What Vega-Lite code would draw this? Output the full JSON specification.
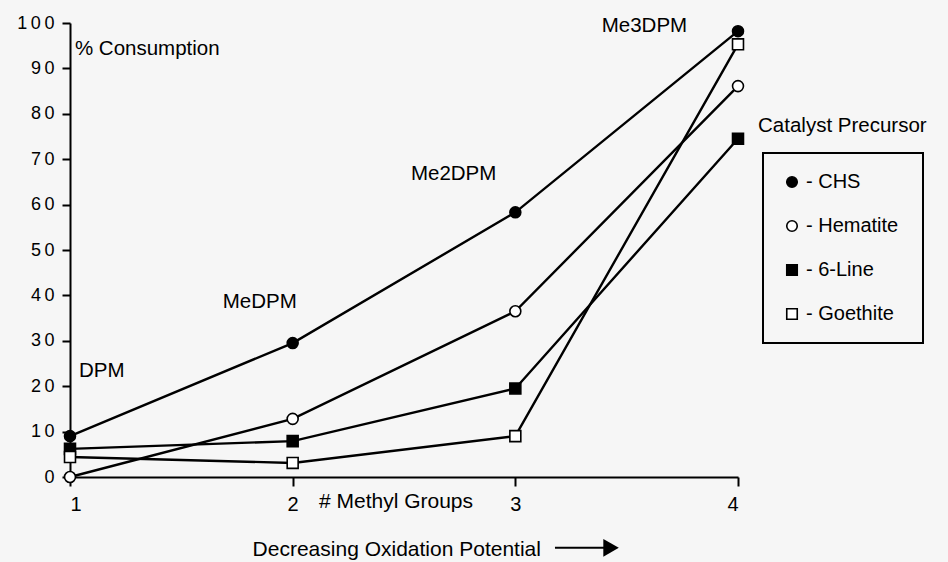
{
  "$schema": "https://vega.github.io/schema/vega-lite/v6.json",
  "width": 668,
  "height": 454,
  "autosize": {"type": "none"},
  "padding": {"left": 70, "top": 23, "right": 210, "bottom": 85},
  "background": "#f6f6f6",
  "config": {
    "view": {"stroke": null},
    "font": "Liberation Sans",
    "legend": {
      "orient": "none",
      "legendX": 693,
      "legendY": 130,
      "strokeColor": "black",
      "strokeWidth": 2,
      "padding": 19,
      "rowPadding": 24,
      "labelFontSize": 20,
      "labelColor": "black",
      "labelOffset": 4,
      "symbolSize": 110,
      "symbolStrokeWidth": 1.6
    }
  },
  "datasets": {
    "series": [
      {"catalyst": "CHS", "groups": 1, "consumption": 9},
      {"catalyst": "CHS", "groups": 2, "consumption": 29.5},
      {"catalyst": "CHS", "groups": 3, "consumption": 58.3},
      {"catalyst": "CHS", "groups": 4, "consumption": 98.2},
      {"catalyst": "Hematite", "groups": 1, "consumption": 0},
      {"catalyst": "Hematite", "groups": 2, "consumption": 12.8},
      {"catalyst": "Hematite", "groups": 3, "consumption": 36.5},
      {"catalyst": "Hematite", "groups": 4, "consumption": 86.1},
      {"catalyst": "6-Line", "groups": 1, "consumption": 6.2},
      {"catalyst": "6-Line", "groups": 2, "consumption": 7.9},
      {"catalyst": "6-Line", "groups": 3, "consumption": 19.5},
      {"catalyst": "6-Line", "groups": 4, "consumption": 74.5},
      {"catalyst": "Goethite", "groups": 1, "consumption": 4.4},
      {"catalyst": "Goethite", "groups": 2, "consumption": 3.1},
      {"catalyst": "Goethite", "groups": 3, "consumption": 9},
      {"catalyst": "Goethite", "groups": 4, "consumption": 95.3}
    ],
    "notes": [
      {"x": 1.022, "y": 94.3, "label": "% Consumption"},
      {"x": 1.04, "y": 23.3, "label": "DPM"},
      {"x": 1.686, "y": 38.5, "label": "MeDPM"},
      {"x": 2.531, "y": 66.7, "label": "Me2DPM"},
      {"x": 3.388, "y": 99.3, "label": "Me3DPM"},
      {"x": 4.09, "y": 77.3, "label": "Catalyst Precursor"}
    ],
    "axisnotes": [
      {"x": 2.118, "y": -5.6, "label": "# Methyl Groups"},
      {"x": 1.82, "y": -16.1, "label": "Decreasing Oxidation Potential"}
    ],
    "arrow": [
      {"x": 3.178, "x2": 3.43, "y": -15.6}
    ]
  },
  "layer": [
    {
      "data": {"name": "series"},
      "mark": {"type": "line", "color": "black", "strokeWidth": 2.4},
      "encoding": {
        "x": {
          "field": "groups", "type": "quantitative",
          "scale": {"domain": [1, 4], "nice": false, "zero": false},
          "axis": {
            "values": [1, 2, 3, 4], "format": "d", "title": null, "grid": false,
            "domainColor": "black", "domainWidth": 2, "tickColor": "black", "tickWidth": 2,
            "tickSize": 9, "labelFontSize": 20, "labelColor": "black", "labelPadding": 8
          }
        },
        "y": {
          "field": "consumption", "type": "quantitative",
          "scale": {"domain": [0, 100], "nice": false},
          "axis": {
            "values": [0, 10, 20, 30, 40, 50, 60, 70, 80, 90, 100], "title": null, "grid": false,
            "labelExpr": "replace(datum.label, regexp('(\\\\d)(?=\\\\d)', 'g'), '$1\u2009')",
            "domainColor": "black", "domainWidth": 2, "tickColor": "black", "tickWidth": 2,
            "tickSize": 8, "labelFontSize": 18, "labelColor": "black", "labelPadding": 8
          }
        },
        "detail": {"field": "catalyst"}
      }
    },
    {
      "data": {"name": "series"},
      "mark": {"type": "point", "filled": true, "strokeWidth": 1.6, "opacity": 1, "size": 120},
      "encoding": {
        "x": {"field": "groups", "type": "quantitative"},
        "y": {"field": "consumption", "type": "quantitative"},
        "stroke": {
          "field": "catalyst", "type": "nominal",
          "scale": {"domain": ["CHS", "Hematite", "6-Line", "Goethite"], "range": ["black", "black", "black", "black"]},
          "legend": {"title": null, "labelExpr": "'-  ' + datum.label"}
        },
        "shape": {
          "field": "catalyst", "type": "nominal",
          "scale": {"domain": ["CHS", "Hematite", "6-Line", "Goethite"], "range": ["circle", "circle", "square", "square"]},
          "legend": {"title": null, "labelExpr": "'-  ' + datum.label"}
        },
        "fill": {
          "field": "catalyst", "type": "nominal",
          "scale": {"domain": ["CHS", "Hematite", "6-Line", "Goethite"], "range": ["black", "white", "black", "white"]},
          "legend": {"title": null, "labelExpr": "'-  ' + datum.label"}
        }
      }
    },
    {
      "data": {"name": "notes"},
      "mark": {"type": "text", "align": "left", "baseline": "middle", "fontSize": 20.5, "color": "black"},
      "encoding": {
        "x": {"field": "x", "type": "quantitative"},
        "y": {"field": "y", "type": "quantitative"},
        "text": {"field": "label"}
      }
    },
    {
      "data": {"name": "axisnotes"},
      "mark": {"type": "text", "align": "left", "baseline": "middle", "fontSize": 21, "color": "black"},
      "encoding": {
        "x": {"field": "x", "type": "quantitative"},
        "y": {"field": "y", "type": "quantitative"},
        "text": {"field": "label"}
      }
    },
    {
      "data": {"name": "arrow"},
      "mark": {"type": "rule", "color": "black", "strokeWidth": 2},
      "encoding": {
        "x": {"field": "x", "type": "quantitative"},
        "x2": {"field": "x2"},
        "y": {"field": "y", "type": "quantitative"}
      }
    },
    {
      "data": {"name": "arrow"},
      "mark": {"type": "point", "shape": "triangle-right", "filled": true, "color": "black", "opacity": 1, "size": 320},
      "encoding": {
        "x": {"field": "x2", "type": "quantitative"},
        "y": {"field": "y", "type": "quantitative"}
      }
    }
  ]
}
